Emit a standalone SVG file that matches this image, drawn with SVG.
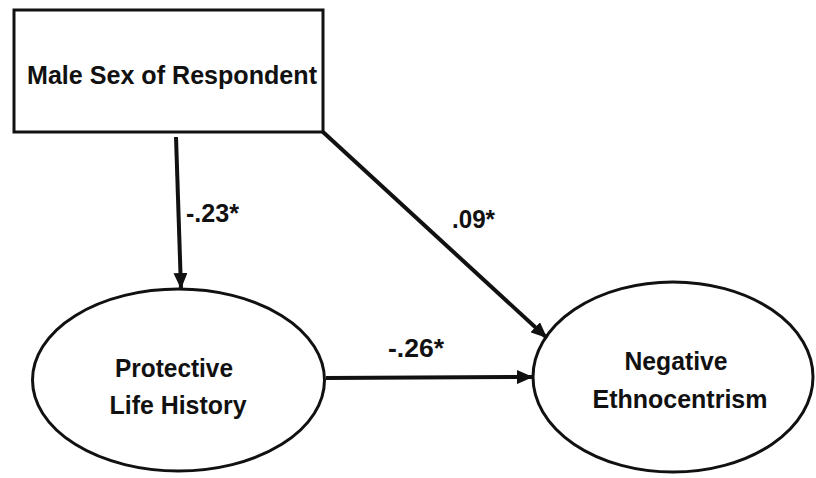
<svg xmlns="http://www.w3.org/2000/svg" width="816" height="478" viewBox="0 0 816 478">
<style>
text{font-family:"Liberation Sans",Arial,sans-serif;font-weight:bold;fill:#111;}
.node{fill:#fff;stroke:#111;stroke-width:3;}
.edge{stroke:#111;stroke-width:4;fill:none;}
.lbl{font-size:25px;}
.nt{font-size:25px;text-anchor:middle;}
</style>
<defs>
<marker id="ah" markerWidth="4" markerHeight="3.5" refX="4" refY="1.75" orient="auto" markerUnits="strokeWidth">
<path d="M0,0 L4,1.75 L0,3.5 z" fill="#111"/>
</marker>
</defs>
<rect width="816" height="478" fill="#fff"/>
<g id="male">
<rect class="node" x="14" y="10" width="309" height="122"/>
<text class="nt" x="172" y="84" textLength="290" lengthAdjust="spacingAndGlyphs">Male Sex of Respondent</text>
</g>
<g id="protective">
<ellipse class="node" cx="178.5" cy="380" rx="146" ry="91"/>
<text class="nt" x="174" y="377" textLength="118" lengthAdjust="spacingAndGlyphs">Protective</text>
<text class="nt" x="178" y="414" textLength="137" lengthAdjust="spacingAndGlyphs">Life History</text>
</g>
<g id="negative">
<ellipse class="node" cx="673" cy="377" rx="140" ry="95"/>
<text class="nt" x="676" y="370" textLength="103" lengthAdjust="spacingAndGlyphs">Negative</text>
<text class="nt" x="680" y="408" textLength="175" lengthAdjust="spacingAndGlyphs">Ethnocentrism</text>
</g>
<g id="connectors">
<line class="edge" x1="176" y1="137" x2="181" y2="289" marker-end="url(#ah)"/>
<line class="edge" x1="323" y1="132" x2="547" y2="338" marker-end="url(#ah)"/>
<line class="edge" x1="326" y1="378" x2="533" y2="377" marker-end="url(#ah)"/>
<text class="lbl" x="186" y="222" textLength="53" lengthAdjust="spacingAndGlyphs">-.23*</text>
<text class="lbl" x="452" y="228" textLength="43" lengthAdjust="spacingAndGlyphs">.09*</text>
<text class="lbl" x="388" y="357" textLength="56" lengthAdjust="spacingAndGlyphs">-.26*</text>
</g>
</svg>
